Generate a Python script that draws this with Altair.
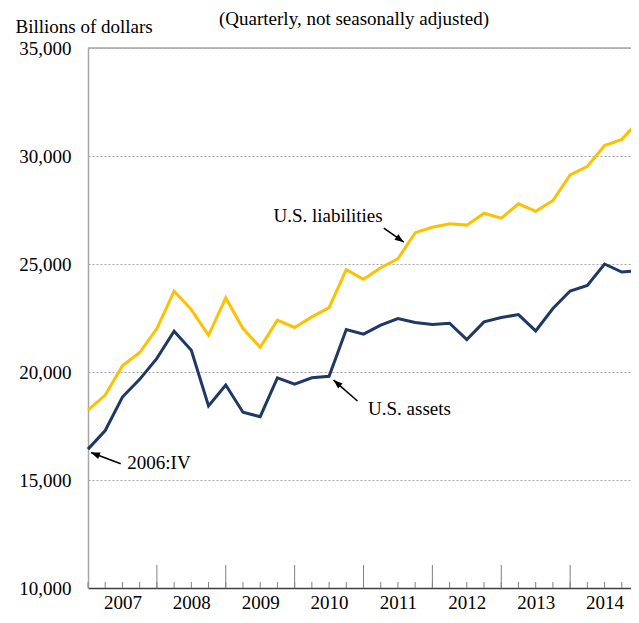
import math
import altair as alt
import pandas as pd

# ---------------- data ----------------
quarters = ["2006:IV"] + [f"{y}:{q}" for y in range(2007, 2015) for q in ["I", "II", "III", "IV"]]

liabilities = [18240, 18930, 20290, 20900, 22010, 23740, 22890, 21700, 23430, 22010,
               21140, 22400, 22060, 22550, 22980, 24740, 24290, 24830, 25245, 26450,
               26700, 26860, 26800, 27350, 27120, 27785, 27440, 27940, 29120, 29520,
               30480, 30770, 31630]
assets = [16430, 17290, 18840, 19660, 20630, 21890, 21010, 18430, 19400, 18135,
          17930, 19730, 19440, 19730, 19800, 21970, 21750, 22170, 22475, 22290,
          22200, 22260, 21500, 22320, 22520, 22660, 21900, 22940, 23750, 24010,
          25000, 24630, 24700]

years = ["2007", "2008", "2009", "2010", "2011", "2012", "2013", "2014"]
y_ticks = [10000, 15000, 20000, 25000, 30000, 35000]

series_names = ["U.S. liabilities", "U.S. assets"]
series_colors = ["#FFC000", "#1F3864"]

# annotations (data coordinates: quarter index, value)
ann_text = ["U.S. liabilities", "U.S. assets", "2006:IV"]
ann_text_k = [13.94, 18.67, 4.12]
ann_text_v = [27212, 18274, 15780]
arrow_tail_k = [17.18, 15.65, 1.90]
arrow_tail_v = [26658, 18657, 15748]
arrow_head_k = [18.34, 14.26, 0.17]
arrow_head_v = [26012, 19627, 16270]

# ---------------- layout ----------------
W, H = 551, 540
KMAX = len(quarters) - 1
YMIN, YMAX = 10000, 35000
FONT = "Liberation Serif"
FS = 19

rows = []
for name, vals in zip(series_names, [liabilities, assets]):
    for k, (q, v) in enumerate(zip(quarters, vals)):
        rows.append({"k": k, "quarter": q, "value": v, "series": name})
df = pd.DataFrame(rows)

df_small = pd.DataFrame({"k": list(range(len(quarters)))})
df_big = pd.DataFrame({"k": [i for i, q in enumerate(quarters) if q.endswith(":IV") and 0 < i < KMAX]})
df_top = pd.DataFrame({"value": [max(y_ticks)]})

def px_angle(tk, tv, hk, hv):
    dx = (hk - tk) * W / KMAX
    dy = -(hv - tv) * H / (YMAX - YMIN)
    return (math.degrees(math.atan2(dx, -dy)) + 360) % 360

df_arrow = pd.DataFrame({
    "k": arrow_tail_k, "value": arrow_tail_v,
    "k2": arrow_head_k, "value2": arrow_head_v,
    "angle": [px_angle(a, b, c, d) for a, b, c, d in zip(arrow_tail_k, arrow_tail_v, arrow_head_k, arrow_head_v)],
})
df_text = pd.DataFrame({"k": ann_text_k, "value": ann_text_v, "label": ann_text})

xscale = alt.Scale(domain=[0, KMAX], nice=False, zero=False)
yscale = alt.Scale(domain=[YMIN, YMAX], nice=False, zero=False)

label_expr = "[" + ",".join(f"'{y}'" for y in years) + "][round((datum.value - 2) / 4)]"

x_axis = alt.Axis(
    values=[2 + 4 * i for i in range(len(years))],
    labelExpr=label_expr,
    title=None, ticks=False, grid=False,
    domainColor="#404040", domainWidth=1.5,
    labelFont=FONT, labelFontSize=FS, labelColor="#000000", labelPadding=5,
    labelFlush=False, labelOverlap=False,
)
y_axis = alt.Axis(
    values=y_ticks, format=",d",
    title="Billions of dollars", titleAngle=0, titleAlign="left", titleBaseline="middle",
    titleX=-73, titleY=-22, titleFont=FONT, titleFontSize=FS, titleFontWeight="normal",
    titleColor="#000000",
    ticks=False, labelPadding=17,
    labelFont=FONT, labelFontSize=FS, labelColor="#000000",
    domainColor="#A6A6A6", domainWidth=1.5,
    grid=True, gridColor="#A6A6A6", gridWidth=1, gridDash=[2, 2],
)

X = lambda f: alt.X(f, scale=xscale, axis=x_axis)
Y = lambda f: alt.Y(f, scale=yscale, axis=y_axis)

lines = alt.Chart(df).mark_line(strokeWidth=3).encode(
    x=X("k:Q"),
    y=Y("value:Q"),
    color=alt.Color("series:N", scale=alt.Scale(domain=series_names, range=series_colors), legend=None),
    detail="series:N",
)

top_border = alt.Chart(df_top).mark_rule(color="#A6A6A6", strokeWidth=1.5).encode(
    y=Y("value:Q"),
)

small_ticks = alt.Chart(df_small).mark_rule(color="#808080", strokeWidth=1).encode(
    x=X("k:Q"),
    y=alt.value(H), y2=alt.value(H - 6),
)
big_ticks = alt.Chart(df_big).mark_rule(color="#808080", strokeWidth=1).encode(
    x=X("k:Q"),
    y=alt.value(H), y2=alt.value(H - 23),
)

arrow_lines = alt.Chart(df_arrow).mark_rule(color="#000000", strokeWidth=1.6).encode(
    x=X("k:Q"),
    y=Y("value:Q"),
    x2="k2:Q", y2="value2:Q",
)
arrow_heads = alt.Chart(df_arrow).mark_point(
    shape="M0,0 L-0.75,2 L0.75,2 Z", filled=True, color="#000000", opacity=1, size=81,
).encode(
    x=X("k2:Q"),
    y=Y("value2:Q"),
    angle=alt.Angle("angle:Q", scale=None),
)
texts = alt.Chart(df_text).mark_text(
    font=FONT, fontSize=FS, color="#000000", align="center", baseline="middle",
).encode(
    x=X("k:Q"),
    y=Y("value:Q"),
    text="label:N",
)
title = alt.Chart(pd.DataFrame({"t": ["(Quarterly, not seasonally adjusted)"]})).mark_text(
    font=FONT, fontSize=FS, color="#000000", align="center", baseline="middle",
).encode(
    x=alt.value(266), y=alt.value(-29), text="t:N",
)

chart = alt.layer(lines, top_border, small_ticks, big_ticks, arrow_lines, arrow_heads, texts, title).properties(
    width=W, height=H,
    background="#ffffff",
    autosize=alt.AutoSizeParams(type="none"),
    padding={"left": 80, "top": 40, "right": -8, "bottom": 23},
).configure_view(stroke=None)

chart.save("out.html", embed_options={"renderer": "svg", "actions": False})
